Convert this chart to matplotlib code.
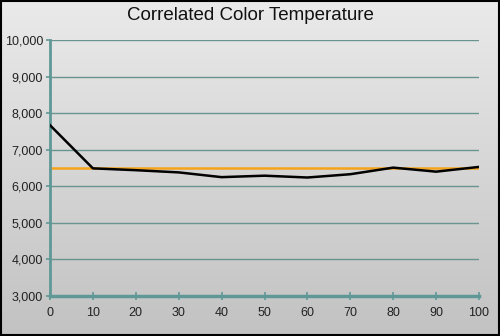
import numpy as np
import matplotlib
matplotlib.use('Agg')
import matplotlib.pyplot as plt
import matplotlib.ticker as plticker

plt.rcParams['font.family'] = ['Liberation Sans', 'DejaVu Sans']

# stimulus level (% grey) and measured correlated colour temperature
levels = [0, 10, 20, 30, 40, 50, 60, 70, 80, 90, 100]
cct = [7670, 6490, 6440, 6380, 6250, 6290, 6240, 6330, 6510, 6400, 6530]
target = [6500, 6500]
target_x = [0, 100]

grid_col = '#6a9490'
axis_col = '#5f9896'

fig = plt.figure(figsize=(5, 3.36), dpi=100)

# grey vertical gradient behind everything
bg = fig.add_axes([0, 0, 1, 1], zorder=0)
grad = np.linspace(0, 1, 256).reshape(-1, 1)
bg.imshow(grad, aspect='auto', cmap=matplotlib.colors.LinearSegmentedColormap.from_list(
    'bg', ['#eaeaea', '#c2c2c2']), extent=[0, 1, 0, 1], origin='upper')
bg.set_xlim(0, 1)
bg.set_ylim(0, 1)
bg.axis('off')
bg.add_patch(plt.Rectangle((0.001, 0.002), 0.997, 0.995, fill=False,
                           edgecolor='black', linewidth=1.5, transform=bg.transAxes))

ax = fig.add_axes([0.1, 0.119, 0.858, 0.762], zorder=1)
ax.patch.set_alpha(0)

ax.plot(target_x, target, color='#f5a31a', linewidth=1.8, zorder=2)
ax.plot(levels, cct, color='black', linewidth=1.8, zorder=3)

ax.set_xlim(0, 100)
ax.set_ylim(3000, 10000)
ax.xaxis.set_major_locator(plticker.MultipleLocator(10))
ax.yaxis.set_major_locator(plticker.MultipleLocator(1000))
ax.yaxis.set_major_formatter(plticker.StrMethodFormatter('{x:,.0f}'))

ax.grid(axis='y', color=grid_col, linewidth=1.0)
ax.set_axisbelow(True)
for s in ['top', 'right']:
    ax.spines[s].set_visible(False)
ax.spines['left'].set_color(axis_col)
ax.spines['left'].set_linewidth(2)
ax.spines['bottom'].set_color(axis_col)
ax.spines['bottom'].set_linewidth(2.5)

ax.tick_params(axis='x', direction='inout', length=6, width=1.2, color=axis_col,
               labelsize=9, labelcolor='#222222', pad=5)
ax.tick_params(axis='y', direction='out', length=3, width=1.2, color=axis_col,
               labelsize=9, labelcolor='#222222', pad=2)

fig.text(0.5, 0.955, 'Correlated Color Temperature', ha='center', va='center',
         fontsize=13.5, color='#111111')

fig.savefig('out.png', dpi=100)
